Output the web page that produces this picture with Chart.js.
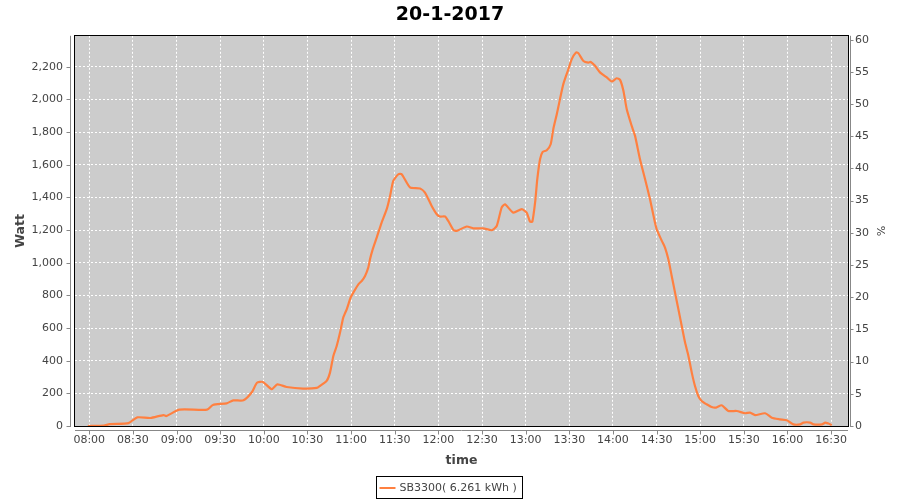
<!DOCTYPE html>
<html>
<head>
<meta charset="utf-8">
<script src="https://cdn.jsdelivr.net/npm/chart.js@4/dist/chart.umd.min.js"></script>
<style>
html,body{margin:0;padding:0;background:#fff;}
#wrap{width:900px;height:500px;}
</style>
</head>
<body>
<div id="wrap"><canvas id="c" width="900" height="500"></canvas></div>
<script>
// ---- data (minutes since midnight, watts) ----
const chartTitle = "20-1-2017";
const seriesLabel = "SB3300( 6.261 kWh )";
const timeMinutes = [479,490,494,507,513,522,531,533,542,561,565,574.5,579,586,592,595.3,599.4,605.4,609.3,615.7,627,636.4,638.6,643.2,645.5,647.8,650.1,652.4,654.6,657,659.7,661.5,665,667.3,669.6,671.8,673,674.9,677.6,681,684.5,686.8,689,692.5,694.8,700.5,707.4,710.8,715.4,718.9,721.1,724.6,726.8,730.3,732.6,739.5,744,750.9,756.7,760.1,763.5,765.8,771.5,777.3,780.7,783,784.6,786.5,788,789.9,791.7,794.5,797.2,799,801.4,803.6,805.9,809.4,811.7,814.6,816.2,819.7,823.1,824.8,827.7,831.1,835.8,839.2,842.6,844.9,847.2,849.5,852.9,855.2,858.6,862.1,865.5,868.9,870.1,873.6,875.8,878.1,880.4,882.7,885,887.3,889.6,891.9,894.2,896.4,898.7,901,904.4,907.9,910.9,914.8,919.3,925.1,930.8,934.3,937.7,944.6,949.2,954.9,959.5,964.1,968.7,971,975.6,977.9,983.7,986,988.1,990.5];
const watts = [0,2,12,18,53,49,67,61,100,100,129,139,157,157,210,265,270,225,255,239,229,233,245,276,327,429,490,572,664,715,787,817,868,888,919,970,1021,1083,1154,1246,1328,1409,1501,1542,1542,1461,1455,1430,1348,1297,1283,1283,1256,1201,1195,1222,1211,1211,1199,1225,1338,1358,1307,1328,1307,1252,1252,1369,1512,1634,1679,1689,1726,1818,1910,2002,2094,2186,2247,2288,2284,2236,2226,2230,2206,2166,2135,2110,2130,2120,2053,1940,1838,1777,1634,1512,1389,1246,1205,1134,1093,1021,919,817,715,613,511,429,327,245,184,153,133,116,113,127,92,92,78,82,67,78,51,41,35,10,10,21,21,10,10,21,15,6];
const xTickLabels = ["08:00","08:30","09:00","09:30","10:00","10:30","11:00","11:30","12:00","12:30","13:00","13:30","14:00","14:30","15:00","15:30","16:00","16:30"];
const wattTicks = [0,200,400,600,800,1000,1200,1400,1600,1800,2000,2200];
const pctTicks = [0,5,10,15,20,25,30,35,40,45,50,55,60];
const xRange = [470.2, 1001.6];
const wattMax = 2390;
const pctMax = 60.6;

const toMin = s => { const [h,m] = s.split(":").map(Number); return h*60+m; };
const fmt = v => { const h = Math.floor(v/60), m = Math.round(v%60); return String(h).padStart(2,"0")+":"+String(m).padStart(2,"0"); };
const xTickValues = xTickLabels.map(toMin);

const FONT = "'DejaVu Sans', sans-serif";
const LINE = "#ff8040";

const decor = {
  id: "decor",
  beforeDraw(chart) {
    const {ctx, chartArea: a} = chart;
    ctx.save();
    ctx.fillStyle = "#ffffff";
    ctx.fillRect(0, 0, chart.width, chart.height);
    ctx.fillStyle = "#cccccc";
    ctx.fillRect(a.left, a.top, a.right - a.left, a.bottom - a.top);
    ctx.restore();
  },
  afterDraw(chart) {
    const {ctx, chartArea: a, scales} = chart;
    ctx.save();
    ctx.strokeStyle = "#000";
    ctx.lineWidth = 1;
    ctx.strokeRect(Math.round(a.left) - 0.5, Math.round(a.top) - 0.5, Math.round(a.right - a.left) + 1, Math.round(a.bottom - a.top) + 1);
    ctx.strokeStyle = "#888";
    ctx.beginPath();
    const lx = Math.round(a.left) - 4.5;
    ctx.moveTo(lx, a.top); ctx.lineTo(lx, a.bottom + 1);
    scales.y.ticks.forEach(t => { const y = Math.round(scales.y.getPixelForValue(t.value)) + 0.5; ctx.moveTo(lx - 4, y); ctx.lineTo(lx, y); });
    const rx = Math.round(a.right) + 2.5;
    ctx.moveTo(rx, a.top); ctx.lineTo(rx, a.bottom + 1);
    scales.y2.ticks.forEach(t => { const y = Math.round(scales.y2.getPixelForValue(t.value)) + 0.5; ctx.moveTo(rx, y); ctx.lineTo(rx + 3, y); });
    const by = Math.round(a.bottom) + 4.5;
    ctx.moveTo(a.left, by); ctx.lineTo(a.right, by);
    scales.x.ticks.forEach(t => { const x = Math.round(scales.x.getPixelForValue(t.value)) + 0.5; ctx.moveTo(x, by); ctx.lineTo(x, by + 4); });
    ctx.stroke();
    // legend
    const ds = chart.data.datasets[0];
    ctx.font = "11px " + FONT;
    const tw = ctx.measureText(ds.label).width;
    const sample = 16, gap = 4, padL = 3, padR = 6;
    const boxW = padL + sample + gap + tw + padR;
    const bx = Math.round(450 - boxW / 2) - 0.5;
    const byy = 476.5, bh = 22;
    ctx.strokeStyle = "#000";
    ctx.strokeRect(bx, byy, Math.round(boxW), bh);
    ctx.strokeStyle = ds.borderColor;
    ctx.lineWidth = 2;
    ctx.beginPath();
    ctx.moveTo(bx + padL, 488); ctx.lineTo(bx + padL + sample, 488);
    ctx.stroke();
    ctx.fillStyle = "#444";
    ctx.textBaseline = "middle";
    ctx.textAlign = "left";
    ctx.fillText(ds.label, bx + padL + sample + gap, 488);
    ctx.restore();
  }
};

new Chart(document.getElementById("c"), {
  type: "line",
  data: {
    datasets: [{
      label: seriesLabel,
      data: timeMinutes.map((t, i) => ({x: t, y: watts[i]})),
      borderColor: LINE,
      backgroundColor: LINE,
      borderWidth: 2.2,
      pointRadius: 0,
      tension: 0.2,
      fill: false,
      yAxisID: "y"
    }]
  },
  options: {
    responsive: false,
    animation: false,
    devicePixelRatio: 1,
    layout: {padding: 0},
    plugins: {
      legend: {display: false},
      tooltip: {enabled: false},
      title: {
        display: true,
        text: chartTitle,
        color: "#000",
        font: {family: FONT, size: 19, weight: "bold"},
        padding: {top: 4, bottom: 9}
      }
    },
    scales: {
      x: {
        type: "linear",
        position: "bottom",
        min: xRange[0],
        max: xRange[1],
        afterBuildTicks: s => { s.ticks = xTickValues.map(v => ({value: v})); },
        afterFit: s => { s.height = 74; },
        grid: {color: "#ffffff", lineWidth: 1, drawTicks: false},
        border: {display: false, dash: [2, 2]},
        ticks: {
          autoSkip: false, maxRotation: 0, padding: 8,
          color: "#444", font: {family: FONT, size: 11},
          callback: v => fmt(v)
        },
        title: {display: true, text: "time", color: "#444", font: {family: FONT, size: 12.5, weight: "bold"}, padding: {top: 0, bottom: 31.6}}
      },
      y: {
        type: "linear",
        position: "left",
        min: 0,
        max: wattMax,
        afterBuildTicks: s => { s.ticks = wattTicks.map(v => ({value: v})); },
        afterFit: s => { s.width = 75; },
        grid: {color: "#ffffff", lineWidth: 1, drawTicks: false},
        border: {display: false, dash: [2, 2]},
        ticks: {
          padding: 12, color: "#444", font: {family: FONT, size: 11},
          callback: v => v.toLocaleString("en-US")
        },
        title: {display: true, text: "Watt", color: "#444", font: {family: FONT, size: 12.5, weight: "bold"}, padding: {top: 13.6, bottom: 0}}
      },
      y2: {
        type: "linear",
        position: "right",
        min: 0,
        max: pctMax,
        afterBuildTicks: s => { s.ticks = pctTicks.map(v => ({value: v})); },
        afterFit: s => { s.width = 52; },
        grid: {display: false, drawTicks: false},
        border: {display: false},
        ticks: {padding: 7, color: "#444", font: {family: FONT, size: 11}},
        title: {display: true, text: "%", color: "#444", font: {family: FONT, size: 11}, padding: {top: 13.4, bottom: 0}}
      }
    }
  },
  plugins: [decor]
});
</script>
</body>
</html>
